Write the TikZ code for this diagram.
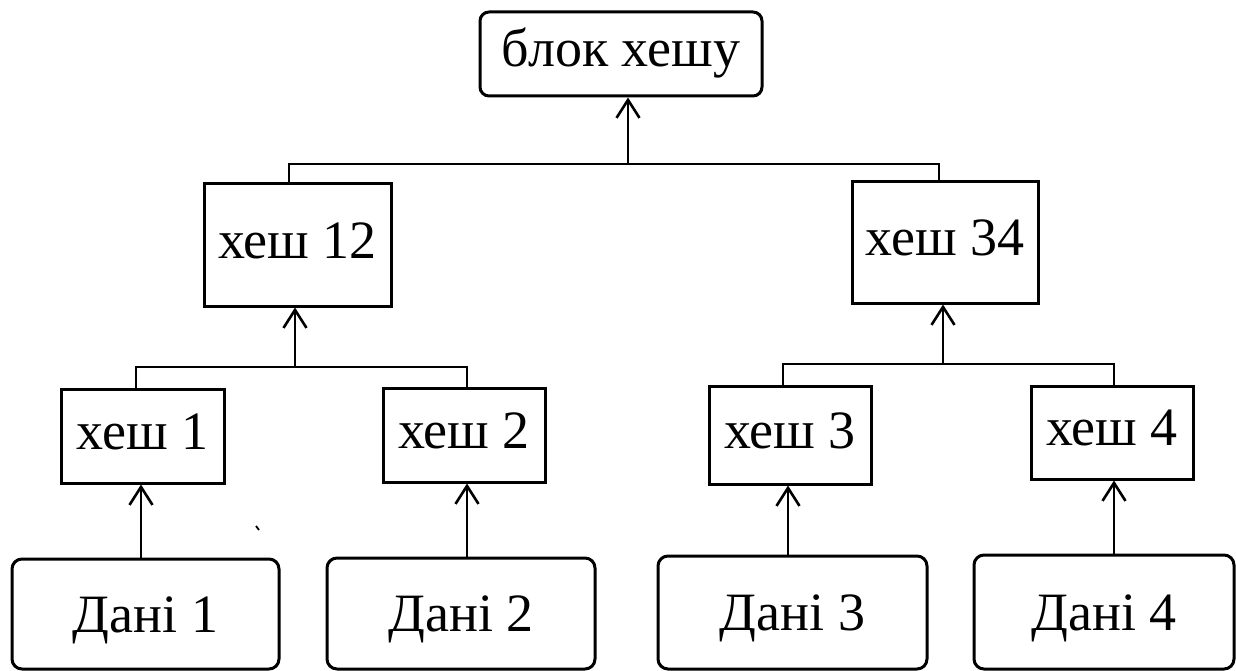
\documentclass[tikz,border=0pt]{standalone}
\usepackage{fontspec}
\setmainfont{Liberation Serif}
\usetikzlibrary{arrows.meta}
\begin{document}
\begin{tikzpicture}[x=1pt,y=-1pt,
  font=\fontsize{54}{60}\selectfont,
  hashbox/.style={draw,line width=3pt,inner sep=0pt,text height=26pt,text depth=0pt},
  rootbox/.style={hashbox,rounded corners=9pt},
  databox/.style={draw,line width=3pt,inner sep=0pt,rounded corners=10pt,text height=36pt,text depth=0pt},
  link/.style={line width=2.6pt},
  arr/.style={line width=2.6pt,-{Straight Barb[length=18pt,width=23pt,line width=2.6pt]}}]
\useasboundingbox (0,0) rectangle (1236,671);

% root of the tree
\node[rootbox,minimum width=282pt,minimum height=84pt] (top) at (621,54) {блок хешу};

% second level
\node[hashbox,minimum width=187pt,minimum height=122pt] (h12) at (297.5,245) {хеш 12};
\node[hashbox,minimum width=186pt,minimum height=121pt] (h34) at (945,242.5) {хеш 34};

% leaf hashes
\node[hashbox,minimum width=163pt,minimum height=94pt] (h1) at (142.5,436) {хеш 1};
\node[hashbox,minimum width=162pt,minimum height=94pt] (h2) at (464,435) {хеш 2};
\node[hashbox,minimum width=162pt,minimum height=98pt] (h3) at (790,435) {хеш 3};
\node[hashbox,minimum width=162pt,minimum height=93pt] (h4) at (1112,432.5) {хеш 4};

% data blocks
\node[databox,minimum width=267pt,minimum height=110pt] (d1) at (145.5,614) {Дані 1};
\node[databox,minimum width=268pt,minimum height=111pt] (d2) at (461,613.5) {Дані 2};
\node[databox,minimum width=269pt,minimum height=113pt] (d3) at (792.5,612.5) {Дані 3};
\node[databox,minimum width=260pt,minimum height=114pt] (d4) at (1104,612) {Дані 4};

% junction points of the brackets
\coordinate (j0) at (628,164);
\coordinate (j1) at (295,367);
\coordinate (j2) at (943,364);

% brackets joining siblings
\draw[link] ([xshift=-8.5pt]h12.north) |- (j0) -| ([xshift=-6pt]h34.north);
\draw[link] ([xshift=-6.5pt]h1.north) |- (j1) -| ([xshift=3pt]h2.north);
\draw[link] ([xshift=-7pt]h3.north) |- (j2) -| ([xshift=2pt]h4.north);

% arrows up to the parent hashes
\draw[arr] (j0) -- (j0 |- top.south);
\draw[arr] (j1) -- (j1 |- h12.south);
\draw[arr] (j2) -- (j2 |- h34.south);

% arrows from data to leaf hashes
\draw[arr] ([xshift=-4.5pt]d1.north) -- ([xshift=-4.5pt]d1.north |- h1.south);
\draw[arr] ([xshift=6pt]d2.north) -- ([xshift=6pt]d2.north |- h2.south);
\draw[arr] ([xshift=-4.5pt]d3.north) -- ([xshift=-4.5pt]d3.north |- h3.south);
\draw[arr] ([xshift=10pt]d4.north) -- ([xshift=10pt]d4.north |- h4.south);

% stray tick mark
\draw[line width=1.8pt] (256,526) -- (259,530);
\end{tikzpicture}
\end{document}
